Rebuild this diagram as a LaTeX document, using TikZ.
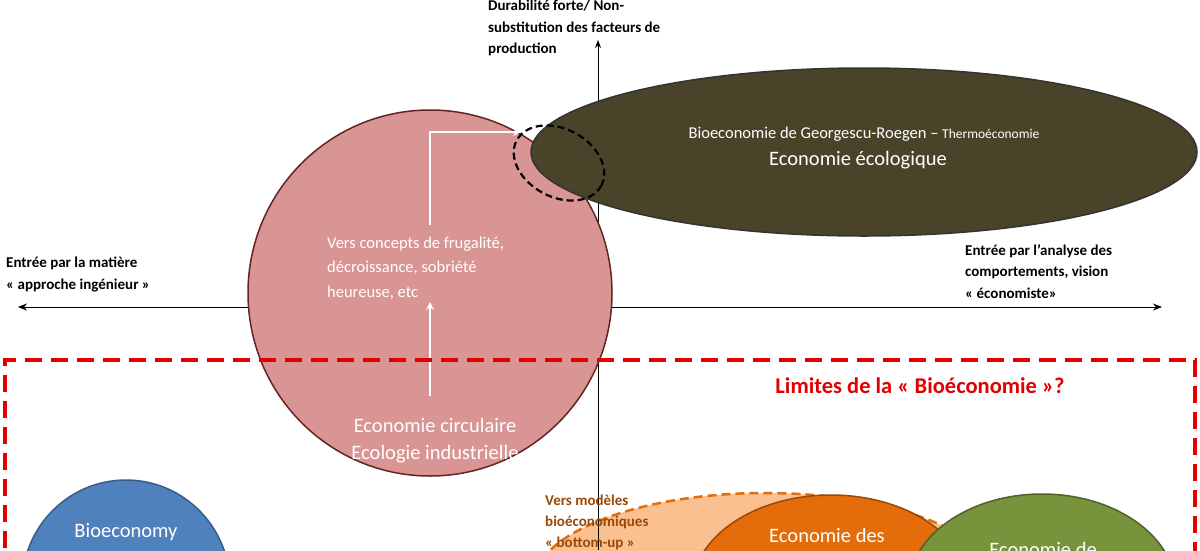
\documentclass[tikz,border=0pt]{standalone}
\usepackage{fontspec}
\setmainfont{Carlito}
\usetikzlibrary{arrows.meta}
\definecolor{pinkf}{HTML}{D99594}
\definecolor{pinkd}{HTML}{632523}
\definecolor{olivef}{HTML}{494429}
\definecolor{bluef}{HTML}{4F81BD}
\definecolor{blued}{HTML}{385D8A}
\definecolor{orf}{HTML}{E46C0A}
\definecolor{ord}{HTML}{984807}
\definecolor{lorf}{HTML}{FAC090}
\definecolor{grf}{HTML}{77933C}
\definecolor{grd}{HTML}{4F6228}
\definecolor{redl}{HTML}{E00000}
\tikzset{
  lbl/.style={font=\bfseries\fontsize{15}{21.5}\selectfont, align=left, anchor=north west, inner sep=0},
  wtext/.style={text=white, align=center},
  warrow/.style={white, line width=2pt, -{Stealth[length=8pt,width=8pt]}},
}
\begin{document}
\begin{tikzpicture}[x=1pt,y=-1pt]
\useasboundingbox (0,0) rectangle (1200,550);
\begin{scope}
\clip (0,0) rectangle (1200,550);
% light orange dashed
\draw[fill=lorf, draw=orf, line width=2.5pt, dash pattern=on 9pt off 5pt] (765,585) ellipse (232 and 92);
% axes
\draw[line width=0.8pt, -{Stealth[length=8pt,width=6pt]}] (598,550) -- (598,40);
\draw[line width=0.8pt, {Stealth[length=9pt,width=7pt]}-{Stealth[length=9pt,width=7pt]}] (18,307) -- (1162,307);
% pink
\draw[draw=pinkd, fill=pinkf, line width=1.5pt] (430,293) ellipse (182 and 183);
% olive
\draw[draw=black!80, fill=olivef, line width=1.5pt] (864,152) ellipse (333 and 84);
% dashed small
\draw[black, line width=2.2pt, dash pattern=on 7pt off 4pt, rotate around={-28:(559,163)}] (559,163) ellipse (48 and 34);
% white arrows
\coordinate (a1) at (430,225); \coordinate (a2) at (430,132); \coordinate (a3) at (521,132);
\draw[warrow] (a1) -- (a2) -- (a3);
\coordinate (b1) at (430,396); \coordinate (b2) at (430,302);
\draw[warrow] (b1) -- (b2);
% texts
\node[wtext, font=\fontsize{16.5}{24.5}\selectfont, align=left, anchor=west, inner sep=0] (t1) at (327,268) {Vers concepts de frugalité,\\décroissance, sobriété\\heureuse, etc};
\node[wtext, font=\fontsize{20.5}{27}\selectfont] (t2) at (435,441) {Economie circulaire\\Ecologie industrielle};
\node[wtext, font=\fontsize{16.5}{20}\selectfont] (t3) at (864,134) {Bioeconomie de Georgescu-Roegen -- {\fontsize{13.5}{16}\selectfont Thermoéconomie}};
\node[wtext, font=\fontsize{20.5}{24}\selectfont] (t4) at (858,160) {Economie écologique};
% labels
\node[lbl] (l1) at (488,0) {Durabilité forte/ Non-\\substitution des facteurs de\\production};
\node[lbl] (l2) at (6,257) {Entrée par la matière\\« approche ingénieur »};
\node[lbl] (l3) at (965,244) {Entrée par l’analyse des\\comportements, vision\\« économiste»};
% red box
\draw[redl, line width=4pt, dash pattern=on 17pt off 9pt] (5,600) -- (5,360) -- (1195,360) -- (1195,600);
\node[text=redl, font=\bfseries\fontsize{22.5}{26}\selectfont] (lim) at (920,386) {Limites de la « Bioéconomie »?};
% bottom ellipses
\draw[draw=blued, fill=bluef, line width=1.5pt] (126,585) ellipse (104 and 105);
\node[wtext, font=\fontsize{20.5}{24}\selectfont] (bio) at (126,532) {Bioeconomy};
\draw[draw=ord, fill=orf, line width=1.5pt] (831,590) ellipse (139 and 95);
\node[wtext, font=\fontsize{20.5}{24}\selectfont] (eco1) at (827,535) {Economie des};
\draw[draw=grd, fill=grf, line width=1.5pt] (1042,590) ellipse (134 and 96);
\node[wtext, font=\fontsize{20.5}{24}\selectfont] (eco2) at (1043,549) {Economie de};
\node[text=ord, font=\bfseries\fontsize{15}{21}\selectfont, align=left, anchor=north west, inner sep=0] (vm) at (545,495) {Vers modèles\\bioéconomiques\\« bottom-up »};
\end{scope}
\end{tikzpicture}
\end{document}
